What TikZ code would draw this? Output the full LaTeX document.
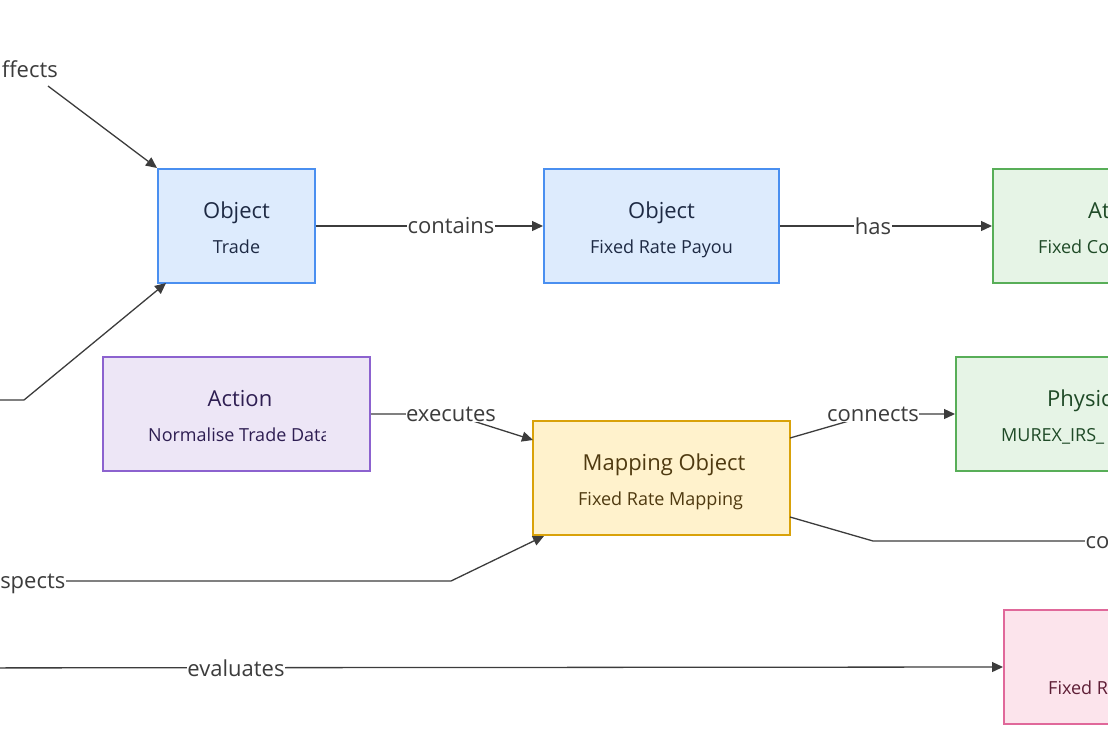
\documentclass[tikz,border=0pt]{standalone}
\usepackage{fontspec}
\setmainfont{Open Sans}
\usetikzlibrary{arrows.meta}
\definecolor{edgec}{HTML}{3C3C3C}
\definecolor{bfill}{HTML}{DDEBFD}\definecolor{bdraw}{HTML}{4A8FF0}\definecolor{btext}{HTML}{1E2A44}
\definecolor{gfill}{HTML}{E6F4E6}\definecolor{gdraw}{HTML}{58AE58}\definecolor{gtext}{HTML}{1F4A27}
\definecolor{pfill}{HTML}{EDE6F6}\definecolor{pdraw}{HTML}{8C62CF}\definecolor{ptext}{HTML}{2E1E52}
\definecolor{yfill}{HTML}{FFF2CC}\definecolor{ydraw}{HTML}{D9A20A}\definecolor{ytext}{HTML}{4F3A10}
\definecolor{kfill}{HTML}{FCE4EC}\definecolor{kdraw}{HTML}{E0689A}\definecolor{ktext}{HTML}{5E1E36}
\tikzset{
  box/.style={rectangle, line width=2pt, minimum height=114pt, inner sep=0pt},
  bluebox/.style={box, fill=bfill, draw=bdraw},
  greenbox/.style={box, fill=gfill, draw=gdraw},
  purplebox/.style={box, fill=pfill, draw=pdraw},
  yellowbox/.style={box, fill=yfill, draw=ydraw},
  pinkbox/.style={box, fill=kfill, draw=kdraw},
  ttl/.style={font=\fontsize{22}{26}\selectfont, inner sep=0pt, anchor=base},
  sub/.style={font=\fontsize{18}{21}\selectfont, inner sep=0pt, anchor=base},
  edge/.style={draw=edgec, line width=1.3pt},
  arr/.style={edge, -{Triangle[length=11pt,width=10pt]}},
  lbl/.style={font=\fontsize{22}{26}\selectfont, text=edgec, fill=white, inner sep=0.5pt},
}
\begin{document}
\begin{tikzpicture}[x=1pt,y=-1pt]
\useasboundingbox (0,0) rectangle (1108,737);
% boxes
\node[bluebox, minimum width=157pt] (trade) at (236.5,226) {};
\node[bluebox, minimum width=235pt] (pay) at (661.5,226) {};
\node[greenbox, minimum width=240pt] (attr) at (1113,226) {};
\node[purplebox, minimum width=267pt] (act) at (236.5,414) {};
\node[yellowbox, minimum width=257pt] (map) at (661.5,478) {};
\node[greenbox, minimum width=260pt] (phys) at (1086,414) {};
\node[pinkbox, minimum width=240pt] (rule) at (1124,667) {};
% texts
\node[ttl, text=btext] (tradeT) at (236.5,218) {Object};
\node[sub, text=btext] (tradeS) at (236.5,253) {Trade};
\node[ttl, text=btext] (payT) at (661.5,218) {Object};
\node[sub, text=btext] (payS) at (661.5,253) {Fixed Rate Payou};
\node[ttl, text=gtext, anchor=base west] (attrT) at (1088,218) {At};
\node[sub, text=gtext, anchor=base west] (attrS) at (1038,253) {Fixed Co};
\node[ttl, text=ptext] (actT) at (240,406) {Action};
\begin{scope}
\clip (140,420) rectangle (325,450);
\node[sub, text=ptext, anchor=base west] (actS) at (148,441) {Normalise Trade Data};
\end{scope}
\node[ttl, text=ytext] (mapT) at (664,470) {Mapping Object};
\begin{scope}
\clip (570,485) rectangle (745,515);
\node[sub, text=ytext, anchor=base west] (mapS) at (578,505) {Fixed Rate Mapping};
\end{scope}
\node[ttl, text=gtext, anchor=base west] (physT) at (1047,406) {Physic};
\node[sub, text=gtext, anchor=base west] (physS) at (1001,441) {MUREX\_IRS\_};
\node[sub, text=ktext, anchor=base west] (ruleS) at (1048,694) {Fixed R};
% coordinates
\coordinate (affS) at (48,86);
\coordinate (in2a) at (-10,400);
\coordinate (in2b) at (24,400);
\coordinate (in2e) at (166,283);
\coordinate (exB) at (451,414);
\coordinate (exE) at (533,440);
\coordinate (cnS) at (790,438);
\coordinate (cnB) at (873,414);
\coordinate (coS) at (790,517);
\coordinate (coB) at (873,541);
\coordinate (coE) at (1200,541);
\coordinate (inS) at (-120,581);
\coordinate (inB) at (451,581);
\coordinate (inE) at (544,536);
\coordinate (evS) at (-120,668);
% edges
\draw[arr] (affS) -- (trade.north west);
\node[lbl, anchor=base east, inner sep=0pt] (lAff) at (58,77) {affects};
\draw[arr] (in2a) -- (in2b) -- (in2e);
\draw[arr] (trade.east) -- (pay.west);
\node[lbl] (lCont) at (451,226) {contains};
\draw[arr] (pay.east) -- (attr.west);
\node[lbl] (lHas) at (873,226) {has};
\draw[arr] (act.east) -- (exB) -- (exE);
\node[lbl] (lExec) at (451,414) {executes};
\draw[arr] (cnS) -- (cnB) -- (phys.west);
\node[lbl] (lConn) at (873,414) {connects};
\draw[edge] (coS) -- (coB) -- (coE);
\node[lbl, anchor=base west] (lCo) at (1085,548) {co};
\draw[arr] (inS) -- (inB) -- (inE);
\node[lbl, anchor=base east] (lInsp) at (66,588) {inspects};
\draw[arr] (evS) -- (rule.west);
\node[lbl] (lEval) at (236,668) {evaluates};
\end{tikzpicture}
\end{document}
